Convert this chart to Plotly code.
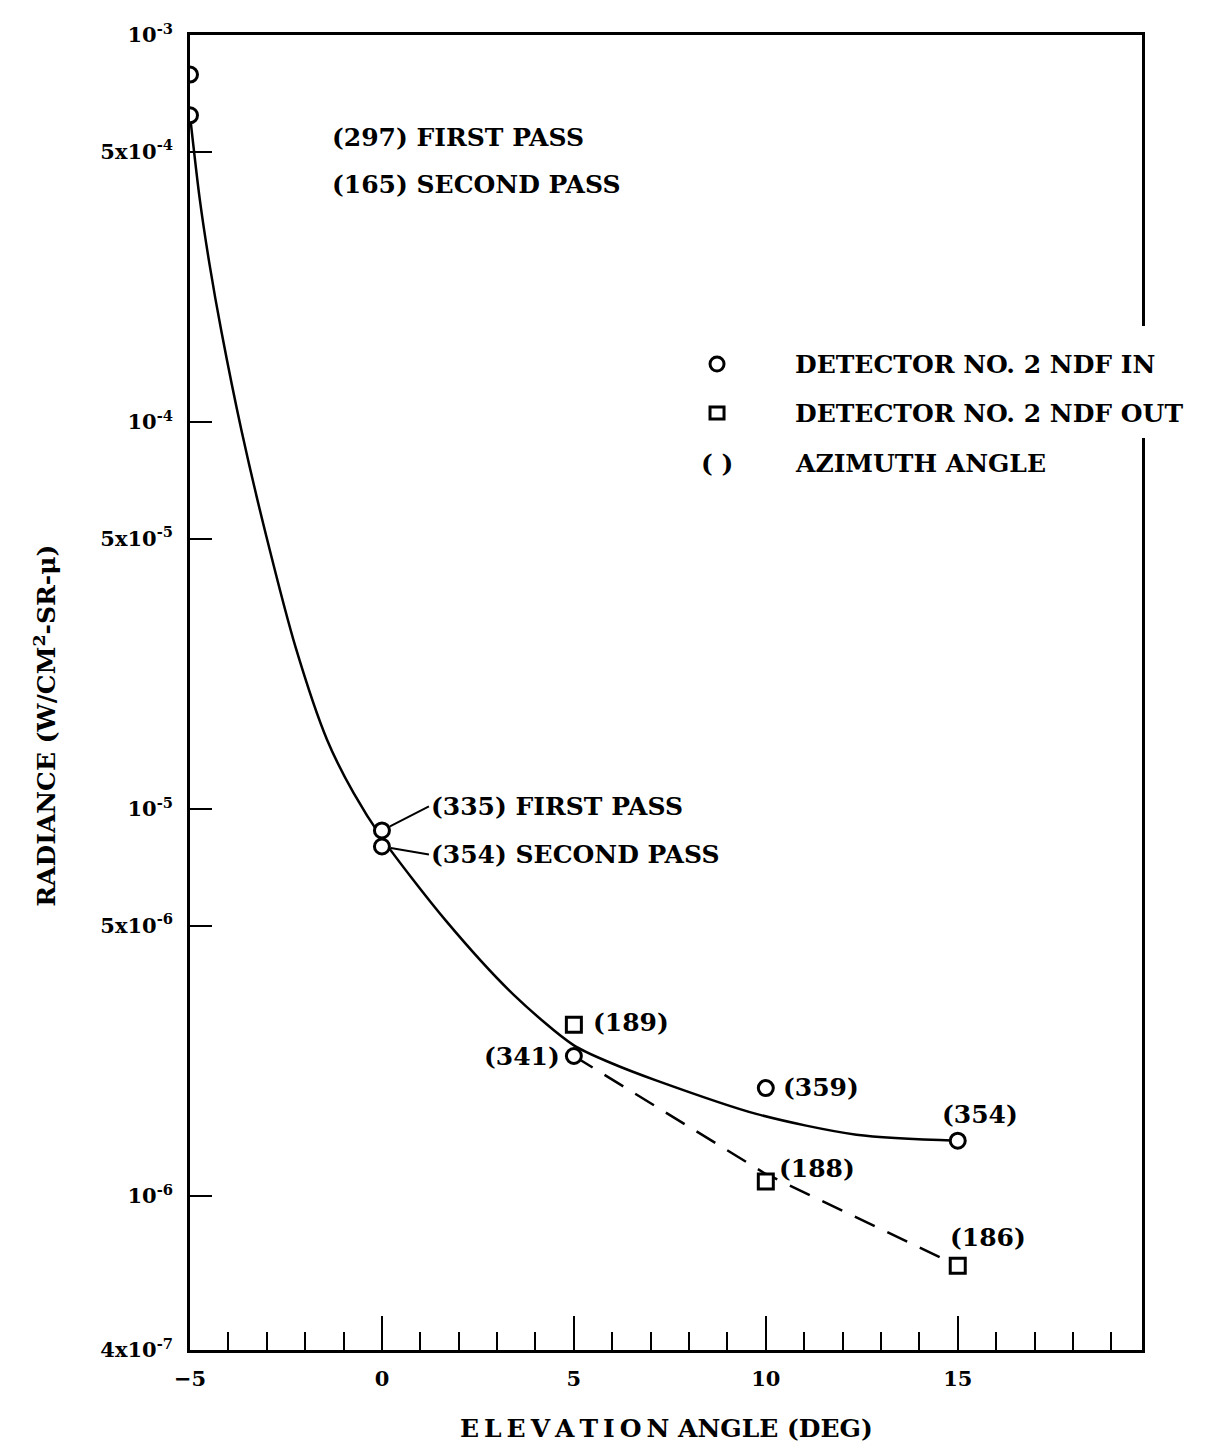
import numpy as np
import plotly.graph_objects as go

# measured points, detector no. 2
ndf_in_x = [-5, -5, 0, 0, 5, 10, 15]
ndf_in_y = [7.9e-4, 6.2e-4, 8.8e-6, 8.0e-6, 2.3e-6, 1.9e-6, 1.39e-6]
ndf_out_x = [5, 10, 15]
ndf_out_y = [2.77e-6, 1.09e-6, 6.6e-7]

# hand-drawn curves
curve_in_x = [-5, -4.745, -4.49, -4.18, -3.65, -3.01, -2.24, -1.43, -0.74, 0,
              1.67, 3.42, 5, 6, 7.14, 9.75, 12.36, 15]
curve_in_y = [6.2e-4, 3.76e-4, 2.55e-4, 1.71e-4, 9.42e-5, 5.06e-5, 2.6e-5, 1.51e-5, 1.1e-5,
              8.41e-6, 5.14e-6, 3.32e-6, 2.45e-6, 2.2e-6, 1.99e-6, 1.63e-6, 1.44e-6, 1.39e-6]
curve_out_x = [5, 10, 15]
curve_out_y = [2.3e-6, 1.14e-6, 6.6e-7]

# azimuth angle labels
az_in_labels = ['', '', '(335) FIRST PASS', '(354) SECOND PASS', '(341)', '(359)', '(354)']
az_out_labels = ['(189)', '(188)', '(186)']

y_tickvals = [1e-3, 5e-4, 1e-4, 5e-5, 1e-5, 5e-6, 1e-6, 4e-7]
y_ticktext = ['10<sup>-3</sup>', '5x10<sup>-4</sup>', '10<sup>-4</sup>', '5x10<sup>-5</sup>',
              '10<sup>-5</sup>', '5x10<sup>-6</sup>', '10<sup>-6</sup>', '4x10<sup>-7</sup>']
x_tickvals = [-5, 0, 5, 10, 15]

FONT = 'DejaVu Serif'

fig = go.Figure()

fig.add_trace(go.Scatter(
    x=curve_in_x, y=curve_in_y, mode='lines',
    line=dict(color='black', width=2.5, shape='spline', smoothing=0.8),
    hoverinfo='skip'
))
fig.add_trace(go.Scatter(
    x=curve_out_x, y=curve_out_y, mode='lines',
    line=dict(color='black', width=2.5, dash='22px,14px'),
    hoverinfo='skip'
))
fig.add_trace(go.Scatter(
    x=ndf_in_x, y=ndf_in_y, mode='markers',
    marker=dict(symbol='circle', size=15, color='white', line=dict(color='black', width=3))
))
fig.add_trace(go.Scatter(
    x=ndf_out_x, y=ndf_out_y, mode='markers',
    marker=dict(symbol='square', size=15, color='white', line=dict(color='black', width=3))
))

lab_font = dict(family=FONT, size=25, color='black', weight='bold')

# label offsets (px) for each point
in_offsets = [None, None,
              dict(ax=47, ay=-24, arrow=True),
              dict(ax=47, ay=8, arrow=True),
              dict(xshift=-12, yshift=0, xanchor='right'),
              dict(xshift=15, yshift=1, xanchor='left'),
              dict(xshift=22, yshift=26, xanchor='center')]
for x, y, t, off in zip(ndf_in_x, ndf_in_y, az_in_labels, in_offsets):
    if not t:
        continue
    if off.get('arrow'):
        fig.add_annotation(x=x, y=np.log10(y), text=t, showarrow=True, arrowhead=0,
                           arrowwidth=2, arrowcolor='black', standoff=9,
                           ax=off['ax'], ay=off['ay'], xanchor='left', yanchor='middle',
                           font=lab_font)
    else:
        fig.add_annotation(x=x, y=np.log10(y), text=t, showarrow=False,
                           xshift=off['xshift'], yshift=off['yshift'],
                           xanchor=off['xanchor'], yanchor='middle', font=lab_font)

out_offsets = [dict(xshift=17, yshift=2, xanchor='left'),
               dict(xshift=11, yshift=13, xanchor='left'),
               dict(xshift=30, yshift=28, xanchor='center')]
for x, y, t, off in zip(ndf_out_x, ndf_out_y, az_out_labels, out_offsets):
    fig.add_annotation(x=x, y=np.log10(y), text=t, showarrow=False,
                       xshift=off['xshift'], yshift=off['yshift'],
                       xanchor=off['xanchor'], yanchor='middle', font=lab_font)

# notes for the -5 deg points
fig.add_annotation(x=0.147, y=0.922, xref='paper', yref='paper', text='(297) FIRST PASS',
                   showarrow=False, xanchor='left', yanchor='middle', font=lab_font)
fig.add_annotation(x=0.147, y=0.886, xref='paper', yref='paper', text='(165) SECOND PASS',
                   showarrow=False, xanchor='left', yanchor='middle', font=lab_font)

# key
key_rows = [0.7498, 0.7125, 0.6745]
key_text = ['DETECTOR NO. 2 NDF IN', 'DETECTOR NO. 2 NDF OUT', 'AZIMUTH ANGLE']
fig.add_shape(type='rect', xref='paper', yref='paper', x0=0.985, x1=1.02, y0=0.6935, y1=0.7787,
              fillcolor='white', line=dict(width=0), layer='above')
fig.add_shape(type='circle', xref='paper', yref='paper', xsizemode='pixel', ysizemode='pixel',
              xanchor=0.5536, yanchor=key_rows[0], x0=-7, x1=7, y0=-7, y1=7,
              line=dict(color='black', width=3), layer='above')
fig.add_shape(type='rect', xref='paper', yref='paper', xsizemode='pixel', ysizemode='pixel',
              xanchor=0.5536, yanchor=key_rows[1], x0=-7, x1=7, y0=-6, y1=6,
              line=dict(color='black', width=3), layer='above')
fig.add_annotation(x=0.5536, y=key_rows[2], xref='paper', yref='paper', text='( )',
                   showarrow=False, xanchor='center', yanchor='middle', font=lab_font)
for yy, t in zip(key_rows, key_text):
    fig.add_annotation(x=0.6334, y=yy, xref='paper', yref='paper', text=t,
                       showarrow=False, xanchor='left', yanchor='middle', font=lab_font)

# axis titles
fig.add_annotation(x=-0.152, y=0.475, xref='paper', yref='paper',
                   text='RADIANCE (W/CM<sup>2</sup>-SR-\u03bc)', textangle=-90,
                   showarrow=False, xanchor='center', yanchor='middle', font=lab_font)
fig.add_annotation(x=0.5, y=-0.06, xref='paper', yref='paper',
                   text='E\u2009L\u2009E\u2009V\u2009A\u2009T\u2009I\u2009O\u2009N ANGLE (DEG)',
                   showarrow=False, xanchor='center', yanchor='middle', font=lab_font)

tick_font = dict(family=FONT, size=21, color='black', weight='bold')

fig.update_xaxes(
    range=[-5, 19.8], showline=True, linecolor='black', linewidth=2.5, mirror=True,
    showgrid=False, zeroline=False,
    tickvals=x_tickvals, ticks='inside', ticklen=34, tickwidth=2, tickcolor='black',
    tickfont=tick_font, ticklabelstandoff=8,
    minor=dict(ticks='inside', dtick=1, tick0=0, ticklen=18, tickwidth=2, tickcolor='black',
               showgrid=False)
)
fig.update_yaxes(
    type='log', range=[np.log10(4e-7), -3], showline=True, linecolor='black', linewidth=2.5,
    mirror=True, showgrid=False, zeroline=False,
    tickvals=y_tickvals, ticktext=y_ticktext, ticks='inside', ticklen=22, tickwidth=2,
    tickcolor='black', tickfont=tick_font, ticklabelstandoff=10
)

fig.update_layout(
    width=1213, height=1445,
    margin=dict(l=190, r=71, t=35, b=95),
    paper_bgcolor='white', plot_bgcolor='white',
    showlegend=False,
    font=dict(family=FONT, color='black')
)

# drop the browser's default body margin so the figure fills the window
fig.write_html('out.html', config={'displayModeBar': False},
               post_script="document.body.style.margin='0px';")
